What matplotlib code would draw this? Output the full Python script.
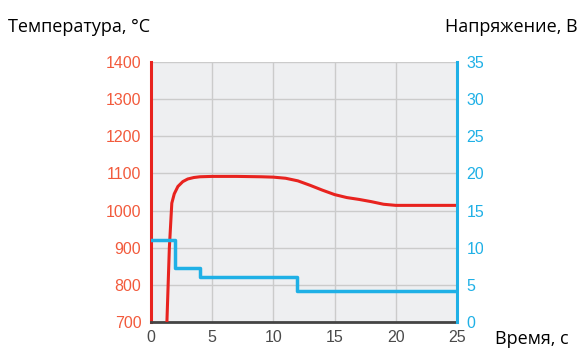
import matplotlib.pyplot as plt
from matplotlib.transforms import Bbox

# время, с / температура, °C
temp_t = [1.3, 1.5, 1.7, 1.9, 2.2, 2.6, 3.0, 3.5, 4.0, 5, 7, 9, 10, 11, 12, 13, 14, 15, 16, 17, 18, 19, 20, 22, 25]
temp_c = [700, 900, 1020, 1045, 1065, 1078, 1085, 1089, 1091, 1092, 1092, 1091, 1090, 1087, 1080, 1068,
          1055, 1043, 1035, 1030, 1024, 1017, 1014, 1014, 1014]

# напряжение, В (ступенчатая)
volt_t = [0, 2, 4, 11.9, 25]
volt_v = [11, 7.3, 6.0, 4.2, 4.2]

x_ticks = [0, 5, 10, 15, 20, 25]
t_ticks = [700, 800, 900, 1000, 1100, 1200, 1300, 1400]
v_ticks = [0, 5, 10, 15, 20, 25, 30, 35]

RED = "#e8231f"
RED_TXT = "#f25a3c"
BLUE = "#1fb0e6"

plt.rcParams["font.family"] = ["Liberation Sans", "DejaVu Sans"]

fig = plt.figure(figsize=(5.79, 3.51), dpi=100)
ax = fig.add_axes([151 / 579, 1 - 322 / 351, (457 - 151) / 579, (322 - 62) / 351])
ax.set_facecolor("#eeeff1")

ax.plot(temp_t, temp_c, color=RED, lw=2.2, solid_capstyle="butt", zorder=3)
ax.set_xlim(0, 25)
ax.set_ylim(700, 1400)
ax.set_xticks(x_ticks)
ax.set_yticks(t_ticks)
ax.grid(color="#cbcbcb", lw=1)
ax.set_axisbelow(True)
ax.tick_params(length=0, labelsize=11.5)
ax.tick_params(axis="y", colors=RED_TXT, pad=7)
ax.tick_params(axis="x", colors="#4a4a4a", pad=6)

for s in ["top", "right"]:
    ax.spines[s].set_visible(False)
ax.spines["left"].set_color(RED)
ax.spines["left"].set_linewidth(2.2)
ax.spines["bottom"].set_color("#444444")
ax.spines["bottom"].set_linewidth(2)

ax2 = ax.twinx()
ax2.step(volt_t, volt_v, where="post", color=BLUE, lw=2.5, zorder=2)
ax2.set_ylim(0, 35)
ax2.set_yticks(v_ticks)
ax2.tick_params(length=0, labelsize=11.5, colors=BLUE, pad=7)
for s in ["top", "left", "bottom"]:
    ax2.spines[s].set_visible(False)
ax2.spines["right"].set_color(BLUE)
ax2.spines["right"].set_linewidth(2.2)

# правые подписи в оригинале обрезаны по краю картинки
clip = Bbox([[0, 0], [483, 351]])
for lbl in ax2.get_yticklabels():
    lbl.set_clip_box(clip)
    lbl.set_clip_on(True)

title_font = ["Open Sans", "DejaVu Sans"]
fig.text(8 / 579, 1 - 27 / 351, "Температура, °C", fontsize=13, va="center", ha="left", family=title_font)
fig.text(578 / 579, 1 - 27 / 351, "Напряжение, В", fontsize=13, va="center", ha="right", family=title_font)
fig.text(495 / 579, 1 - 339 / 351, "Время, с", fontsize=13, va="center", ha="left", family=title_font)

fig.savefig("out.png", dpi=100)
